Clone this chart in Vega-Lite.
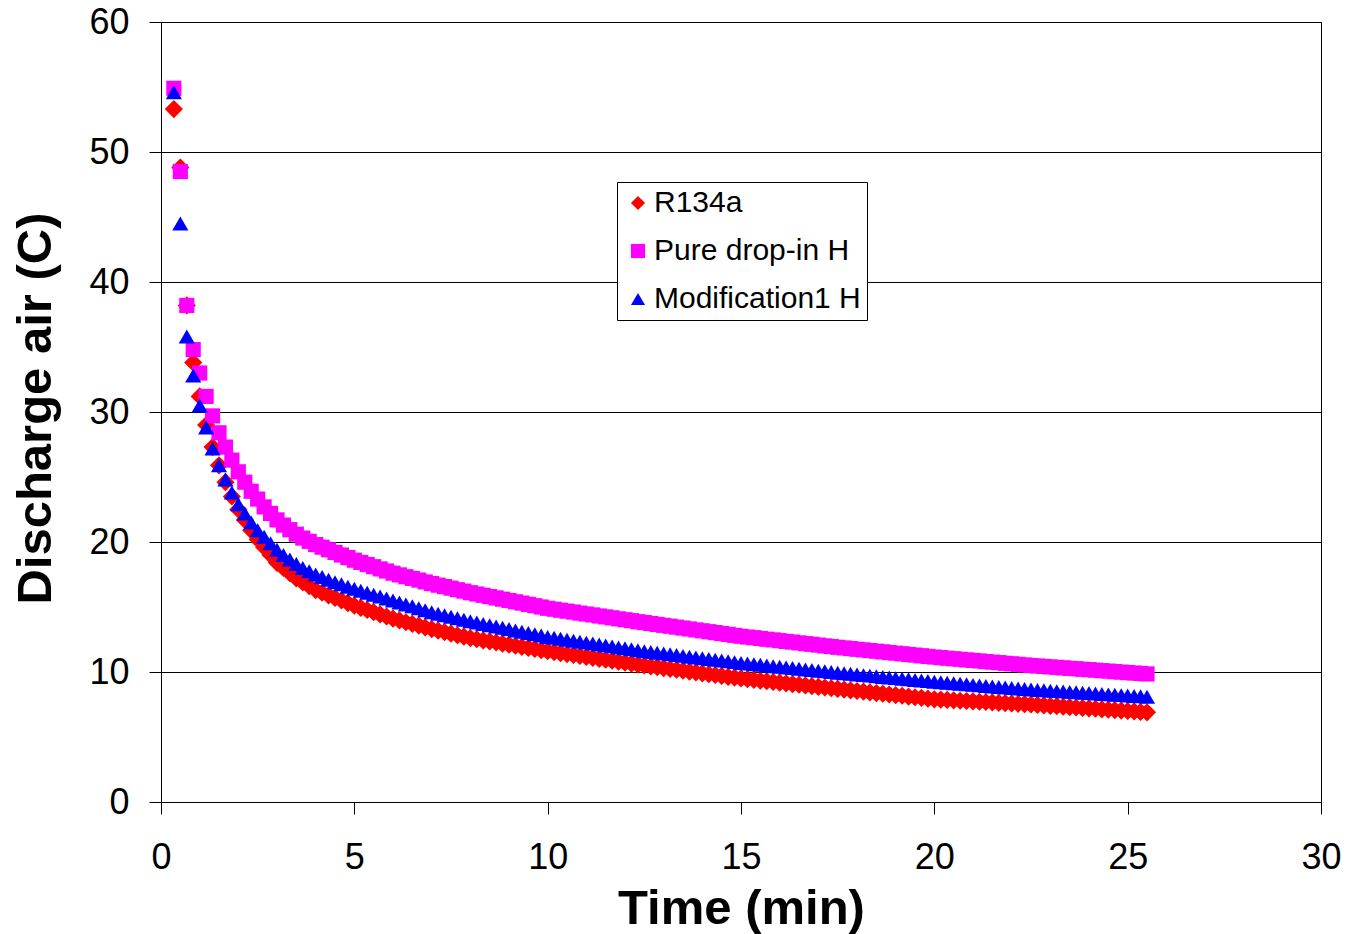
{
"$schema": "https://vega.github.io/schema/vega-lite/v6.json",
"width": 1160, "height": 780,
"autosize": {"type": "none"},
"padding": {"left": 161, "top": 22, "right": 25, "bottom": 132},
"background": "white",
"data": {"values": [
{"t":0.333,"R134a":53.3,"Pure drop-in H":54.9,"Modification1 H":54.6},
{"t":0.5,"R134a":48.8,"Pure drop-in H":48.5,"Modification1 H":44.5},
{"t":0.667,"R134a":38.2,"Pure drop-in H":38.2,"Modification1 H":35.8},
{"t":0.833,"R134a":33.8,"Pure drop-in H":34.8,"Modification1 H":32.8},
{"t":1,"R134a":31.2,"Pure drop-in H":33.0,"Modification1 H":30.5},
{"t":1.167,"R134a":29.0,"Pure drop-in H":31.2,"Modification1 H":28.8},
{"t":1.333,"R134a":27.3,"Pure drop-in H":29.7,"Modification1 H":27.2},
{"t":1.5,"R134a":25.9,"Pure drop-in H":28.4,"Modification1 H":25.9},
{"t":1.667,"R134a":24.6,"Pure drop-in H":27.3,"Modification1 H":24.8},
{"t":1.833,"R134a":23.5,"Pure drop-in H":26.3,"Modification1 H":23.8},
{"t":2,"R134a":22.5,"Pure drop-in H":25.4,"Modification1 H":22.9},
{"t":2.167,"R134a":21.7,"Pure drop-in H":24.6,"Modification1 H":22.2},
{"t":2.333,"R134a":20.9,"Pure drop-in H":23.9,"Modification1 H":21.5},
{"t":2.5,"R134a":20.2,"Pure drop-in H":23.3,"Modification1 H":20.9},
{"t":2.667,"R134a":19.6,"Pure drop-in H":22.7,"Modification1 H":20.4},
{"t":2.833,"R134a":19.0,"Pure drop-in H":22.2,"Modification1 H":19.9},
{"t":3,"R134a":18.4,"Pure drop-in H":21.7,"Modification1 H":19.4},
{"t":3.167,"R134a":18.0,"Pure drop-in H":21.3,"Modification1 H":19.0},
{"t":3.333,"R134a":17.6,"Pure drop-in H":20.95,"Modification1 H":18.65},
{"t":3.5,"R134a":17.2,"Pure drop-in H":20.6,"Modification1 H":18.3},
{"t":3.667,"R134a":16.9,"Pure drop-in H":20.3,"Modification1 H":18.0},
{"t":3.833,"R134a":16.6,"Pure drop-in H":20.05,"Modification1 H":17.75},
{"t":4,"R134a":16.3,"Pure drop-in H":19.8,"Modification1 H":17.5},
{"t":4.167,"R134a":16.1,"Pure drop-in H":19.6,"Modification1 H":17.3},
{"t":4.333,"R134a":15.9,"Pure drop-in H":19.4,"Modification1 H":17.1},
{"t":4.5,"R134a":15.7,"Pure drop-in H":19.2,"Modification1 H":16.9},
{"t":4.667,"R134a":15.5,"Pure drop-in H":19.0,"Modification1 H":16.75},
{"t":4.833,"R134a":15.3,"Pure drop-in H":18.8,"Modification1 H":16.55},
{"t":5,"R134a":15.1,"Pure drop-in H":18.6,"Modification1 H":16.4},
{"t":5.167,"R134a":14.93,"Pure drop-in H":18.43,"Modification1 H":16.25},
{"t":5.333,"R134a":14.77,"Pure drop-in H":18.27,"Modification1 H":16.1},
{"t":5.5,"R134a":14.6,"Pure drop-in H":18.1,"Modification1 H":15.95},
{"t":5.667,"R134a":14.43,"Pure drop-in H":17.93,"Modification1 H":15.8},
{"t":5.833,"R134a":14.27,"Pure drop-in H":17.77,"Modification1 H":15.65},
{"t":6,"R134a":14.1,"Pure drop-in H":17.6,"Modification1 H":15.5},
{"t":6.167,"R134a":13.97,"Pure drop-in H":17.47,"Modification1 H":15.35},
{"t":6.333,"R134a":13.83,"Pure drop-in H":17.33,"Modification1 H":15.2},
{"t":6.5,"R134a":13.7,"Pure drop-in H":17.2,"Modification1 H":15.05},
{"t":6.667,"R134a":13.57,"Pure drop-in H":17.07,"Modification1 H":14.9},
{"t":6.833,"R134a":13.43,"Pure drop-in H":16.93,"Modification1 H":14.75},
{"t":7,"R134a":13.3,"Pure drop-in H":16.8,"Modification1 H":14.6},
{"t":7.167,"R134a":13.18,"Pure drop-in H":16.68,"Modification1 H":14.48},
{"t":7.333,"R134a":13.07,"Pure drop-in H":16.57,"Modification1 H":14.37},
{"t":7.5,"R134a":12.95,"Pure drop-in H":16.45,"Modification1 H":14.25},
{"t":7.667,"R134a":12.83,"Pure drop-in H":16.33,"Modification1 H":14.13},
{"t":7.833,"R134a":12.72,"Pure drop-in H":16.22,"Modification1 H":14.02},
{"t":8,"R134a":12.6,"Pure drop-in H":16.1,"Modification1 H":13.9},
{"t":8.167,"R134a":12.52,"Pure drop-in H":16.0,"Modification1 H":13.8},
{"t":8.333,"R134a":12.43,"Pure drop-in H":15.9,"Modification1 H":13.7},
{"t":8.5,"R134a":12.35,"Pure drop-in H":15.8,"Modification1 H":13.6},
{"t":8.667,"R134a":12.27,"Pure drop-in H":15.7,"Modification1 H":13.5},
{"t":8.833,"R134a":12.18,"Pure drop-in H":15.6,"Modification1 H":13.4},
{"t":9,"R134a":12.1,"Pure drop-in H":15.5,"Modification1 H":13.3},
{"t":9.167,"R134a":12.02,"Pure drop-in H":15.4,"Modification1 H":13.2},
{"t":9.333,"R134a":11.93,"Pure drop-in H":15.3,"Modification1 H":13.1},
{"t":9.5,"R134a":11.85,"Pure drop-in H":15.2,"Modification1 H":13.0},
{"t":9.667,"R134a":11.77,"Pure drop-in H":15.1,"Modification1 H":12.9},
{"t":9.833,"R134a":11.68,"Pure drop-in H":15.0,"Modification1 H":12.8},
{"t":10,"R134a":11.6,"Pure drop-in H":14.9,"Modification1 H":12.7},
{"t":10.167,"R134a":11.53,"Pure drop-in H":14.83,"Modification1 H":12.63},
{"t":10.333,"R134a":11.45,"Pure drop-in H":14.75,"Modification1 H":12.55},
{"t":10.5,"R134a":11.38,"Pure drop-in H":14.68,"Modification1 H":12.48},
{"t":10.667,"R134a":11.31,"Pure drop-in H":14.61,"Modification1 H":12.41},
{"t":10.833,"R134a":11.23,"Pure drop-in H":14.53,"Modification1 H":12.33},
{"t":11,"R134a":11.16,"Pure drop-in H":14.46,"Modification1 H":12.26},
{"t":11.167,"R134a":11.09,"Pure drop-in H":14.39,"Modification1 H":12.19},
{"t":11.333,"R134a":11.01,"Pure drop-in H":14.31,"Modification1 H":12.11},
{"t":11.5,"R134a":10.94,"Pure drop-in H":14.24,"Modification1 H":12.04},
{"t":11.667,"R134a":10.87,"Pure drop-in H":14.17,"Modification1 H":11.97},
{"t":11.833,"R134a":10.79,"Pure drop-in H":14.09,"Modification1 H":11.89},
{"t":12,"R134a":10.72,"Pure drop-in H":14.02,"Modification1 H":11.82},
{"t":12.167,"R134a":10.65,"Pure drop-in H":13.95,"Modification1 H":11.75},
{"t":12.333,"R134a":10.57,"Pure drop-in H":13.87,"Modification1 H":11.67},
{"t":12.5,"R134a":10.5,"Pure drop-in H":13.8,"Modification1 H":11.6},
{"t":12.667,"R134a":10.43,"Pure drop-in H":13.73,"Modification1 H":11.54},
{"t":12.833,"R134a":10.37,"Pure drop-in H":13.66,"Modification1 H":11.48},
{"t":13,"R134a":10.3,"Pure drop-in H":13.59,"Modification1 H":11.42},
{"t":13.167,"R134a":10.23,"Pure drop-in H":13.52,"Modification1 H":11.36},
{"t":13.333,"R134a":10.17,"Pure drop-in H":13.45,"Modification1 H":11.3},
{"t":13.5,"R134a":10.1,"Pure drop-in H":13.38,"Modification1 H":11.24},
{"t":13.667,"R134a":10.03,"Pure drop-in H":13.31,"Modification1 H":11.18},
{"t":13.833,"R134a":9.97,"Pure drop-in H":13.24,"Modification1 H":11.12},
{"t":14,"R134a":9.9,"Pure drop-in H":13.17,"Modification1 H":11.06},
{"t":14.167,"R134a":9.83,"Pure drop-in H":13.1,"Modification1 H":11.0},
{"t":14.333,"R134a":9.77,"Pure drop-in H":13.03,"Modification1 H":10.94},
{"t":14.5,"R134a":9.7,"Pure drop-in H":12.96,"Modification1 H":10.88},
{"t":14.667,"R134a":9.63,"Pure drop-in H":12.89,"Modification1 H":10.82},
{"t":14.833,"R134a":9.57,"Pure drop-in H":12.82,"Modification1 H":10.76},
{"t":15,"R134a":9.5,"Pure drop-in H":12.75,"Modification1 H":10.7},
{"t":15.167,"R134a":9.45,"Pure drop-in H":12.69,"Modification1 H":10.65},
{"t":15.333,"R134a":9.39,"Pure drop-in H":12.64,"Modification1 H":10.6},
{"t":15.5,"R134a":9.34,"Pure drop-in H":12.58,"Modification1 H":10.55},
{"t":15.667,"R134a":9.29,"Pure drop-in H":12.52,"Modification1 H":10.5},
{"t":15.833,"R134a":9.23,"Pure drop-in H":12.47,"Modification1 H":10.45},
{"t":16,"R134a":9.18,"Pure drop-in H":12.41,"Modification1 H":10.4},
{"t":16.167,"R134a":9.13,"Pure drop-in H":12.35,"Modification1 H":10.35},
{"t":16.333,"R134a":9.07,"Pure drop-in H":12.3,"Modification1 H":10.3},
{"t":16.5,"R134a":9.02,"Pure drop-in H":12.24,"Modification1 H":10.25},
{"t":16.667,"R134a":8.97,"Pure drop-in H":12.18,"Modification1 H":10.2},
{"t":16.833,"R134a":8.91,"Pure drop-in H":12.13,"Modification1 H":10.15},
{"t":17,"R134a":8.86,"Pure drop-in H":12.07,"Modification1 H":10.1},
{"t":17.167,"R134a":8.81,"Pure drop-in H":12.01,"Modification1 H":10.05},
{"t":17.333,"R134a":8.75,"Pure drop-in H":11.96,"Modification1 H":10.0},
{"t":17.5,"R134a":8.7,"Pure drop-in H":11.9,"Modification1 H":9.95},
{"t":17.667,"R134a":8.65,"Pure drop-in H":11.85,"Modification1 H":9.9},
{"t":17.833,"R134a":8.59,"Pure drop-in H":11.8,"Modification1 H":9.86},
{"t":18,"R134a":8.54,"Pure drop-in H":11.75,"Modification1 H":9.81},
{"t":18.167,"R134a":8.49,"Pure drop-in H":11.7,"Modification1 H":9.76},
{"t":18.333,"R134a":8.43,"Pure drop-in H":11.65,"Modification1 H":9.72},
{"t":18.5,"R134a":8.38,"Pure drop-in H":11.6,"Modification1 H":9.67},
{"t":18.667,"R134a":8.33,"Pure drop-in H":11.55,"Modification1 H":9.62},
{"t":18.833,"R134a":8.27,"Pure drop-in H":11.5,"Modification1 H":9.58},
{"t":19,"R134a":8.22,"Pure drop-in H":11.45,"Modification1 H":9.53},
{"t":19.167,"R134a":8.17,"Pure drop-in H":11.4,"Modification1 H":9.48},
{"t":19.333,"R134a":8.11,"Pure drop-in H":11.35,"Modification1 H":9.44},
{"t":19.5,"R134a":8.06,"Pure drop-in H":11.3,"Modification1 H":9.39},
{"t":19.667,"R134a":8.01,"Pure drop-in H":11.25,"Modification1 H":9.34},
{"t":19.833,"R134a":7.95,"Pure drop-in H":11.2,"Modification1 H":9.3},
{"t":20,"R134a":7.9,"Pure drop-in H":11.15,"Modification1 H":9.25},
{"t":20.167,"R134a":7.87,"Pure drop-in H":11.11,"Modification1 H":9.21},
{"t":20.333,"R134a":7.85,"Pure drop-in H":11.06,"Modification1 H":9.17},
{"t":20.5,"R134a":7.82,"Pure drop-in H":11.02,"Modification1 H":9.13},
{"t":20.667,"R134a":7.79,"Pure drop-in H":10.98,"Modification1 H":9.09},
{"t":20.833,"R134a":7.77,"Pure drop-in H":10.93,"Modification1 H":9.05},
{"t":21,"R134a":7.74,"Pure drop-in H":10.89,"Modification1 H":9.01},
{"t":21.167,"R134a":7.71,"Pure drop-in H":10.85,"Modification1 H":8.97},
{"t":21.333,"R134a":7.69,"Pure drop-in H":10.8,"Modification1 H":8.93},
{"t":21.5,"R134a":7.66,"Pure drop-in H":10.76,"Modification1 H":8.89},
{"t":21.667,"R134a":7.63,"Pure drop-in H":10.72,"Modification1 H":8.85},
{"t":21.833,"R134a":7.61,"Pure drop-in H":10.67,"Modification1 H":8.81},
{"t":22,"R134a":7.58,"Pure drop-in H":10.63,"Modification1 H":8.77},
{"t":22.167,"R134a":7.55,"Pure drop-in H":10.59,"Modification1 H":8.73},
{"t":22.333,"R134a":7.53,"Pure drop-in H":10.54,"Modification1 H":8.69},
{"t":22.5,"R134a":7.5,"Pure drop-in H":10.5,"Modification1 H":8.65},
{"t":22.667,"R134a":7.47,"Pure drop-in H":10.46,"Modification1 H":8.62},
{"t":22.833,"R134a":7.43,"Pure drop-in H":10.43,"Modification1 H":8.59},
{"t":23,"R134a":7.4,"Pure drop-in H":10.39,"Modification1 H":8.56},
{"t":23.167,"R134a":7.37,"Pure drop-in H":10.36,"Modification1 H":8.53},
{"t":23.333,"R134a":7.33,"Pure drop-in H":10.32,"Modification1 H":8.5},
{"t":23.5,"R134a":7.3,"Pure drop-in H":10.28,"Modification1 H":8.47},
{"t":23.667,"R134a":7.27,"Pure drop-in H":10.25,"Modification1 H":8.44},
{"t":23.833,"R134a":7.23,"Pure drop-in H":10.21,"Modification1 H":8.41},
{"t":24,"R134a":7.2,"Pure drop-in H":10.18,"Modification1 H":8.38},
{"t":24.167,"R134a":7.17,"Pure drop-in H":10.14,"Modification1 H":8.34},
{"t":24.333,"R134a":7.13,"Pure drop-in H":10.1,"Modification1 H":8.31},
{"t":24.5,"R134a":7.1,"Pure drop-in H":10.07,"Modification1 H":8.28},
{"t":24.667,"R134a":7.07,"Pure drop-in H":10.03,"Modification1 H":8.25},
{"t":24.833,"R134a":7.03,"Pure drop-in H":9.99,"Modification1 H":8.22},
{"t":25,"R134a":7.0,"Pure drop-in H":9.96,"Modification1 H":8.19},
{"t":25.167,"R134a":6.97,"Pure drop-in H":9.92,"Modification1 H":8.16},
{"t":25.333,"R134a":6.93,"Pure drop-in H":9.89,"Modification1 H":8.13},
{"t":25.5,"R134a":6.9,"Pure drop-in H":9.85,"Modification1 H":8.1}
]},
"transform": [{"fold": ["R134a", "Pure drop-in H", "Modification1 H"], "as": ["series", "v"]}],
"encoding": {
  "x": {"field": "t", "type": "quantitative",
        "scale": {"domain": [0, 30], "nice": false, "zero": false},
        "axis": {"values": [0, 5, 10, 15, 20, 25, 30], "grid": false, "title": "Time (min)",
                 "labelPadding": 26, "labelFlush": false, "labelOverlap": false,
                 "titleY": 121, "titleBaseline": "alphabetic"}},
  "y": {"field": "v", "type": "quantitative",
        "scale": {"domain": [0, 60], "nice": false},
        "axis": {"values": [0, 10, 20, 30, 40, 50, 60], "grid": true, "title": "Discharge air (C)",
                 "labelPadding": 20, "labelOverlap": false,
                 "titleAngle": -90, "titleX": -111, "titleY": 386, "titleAlign": "center", "titleBaseline": "alphabetic"}},
  "color": {"field": "series", "type": "nominal",
            "scale": {"domain": ["R134a", "Pure drop-in H", "Modification1 H"], "range": ["#FF0000", "#FF00FF", "#0000FF"]},
            "legend": {"title": null, "orient": "none", "legendX": 456, "legendY": 160, "symbolSize": 200,
                       "symbolType": "circle"}},
  "shape": {"field": "series", "type": "nominal",
            "scale": {"domain": ["R134a", "Pure drop-in H", "Modification1 H"], "range": ["diamond", "square", "triangle-up"]},
            "legend": {"title": null, "orient": "none", "legendX": 456, "legendY": 160, "symbolSize": 200}}
},
"layer": [
  {"transform": [{"filter": {"field": "series", "equal": "R134a"}}],
   "mark": {"type": "point", "filled": true, "opacity": 1, "strokeWidth": 0, "size": 330}},
  {"transform": [{"filter": {"field": "series", "equal": "Pure drop-in H"}}],
   "mark": {"type": "point", "filled": true, "opacity": 1, "strokeWidth": 0, "size": 230}},
  {"transform": [{"filter": {"field": "series", "equal": "Modification1 H"}}],
   "mark": {"type": "point", "filled": true, "opacity": 1, "strokeWidth": 0, "size": 260}}
],
"config": {
  "view": {"stroke": "black", "strokeWidth": 1},
  "axis": {"labelFont": "Liberation Sans", "labelFontSize": 36, "labelColor": "black",
           "titleFont": "Liberation Sans", "titleFontSize": 49, "titleFontWeight": "bold", "titleColor": "black",
           "domainColor": "black", "domainWidth": 1, "tickColor": "black", "tickSize": 12, "tickWidth": 1,
           "gridColor": "black", "gridOpacity": 1, "gridWidth": 1},
  "legend": {"strokeColor": "black", "fillColor": "white", "padding": 6, "rowPadding": 18,
             "symbolSize": 200, "symbolStrokeWidth": 0, "symbolOpacity": 1,
             "labelFont": "Liberation Sans", "labelFontSize": 30, "labelColor": "black", "labelOffset": 1,
             "labelLimit": 400}
}
}
